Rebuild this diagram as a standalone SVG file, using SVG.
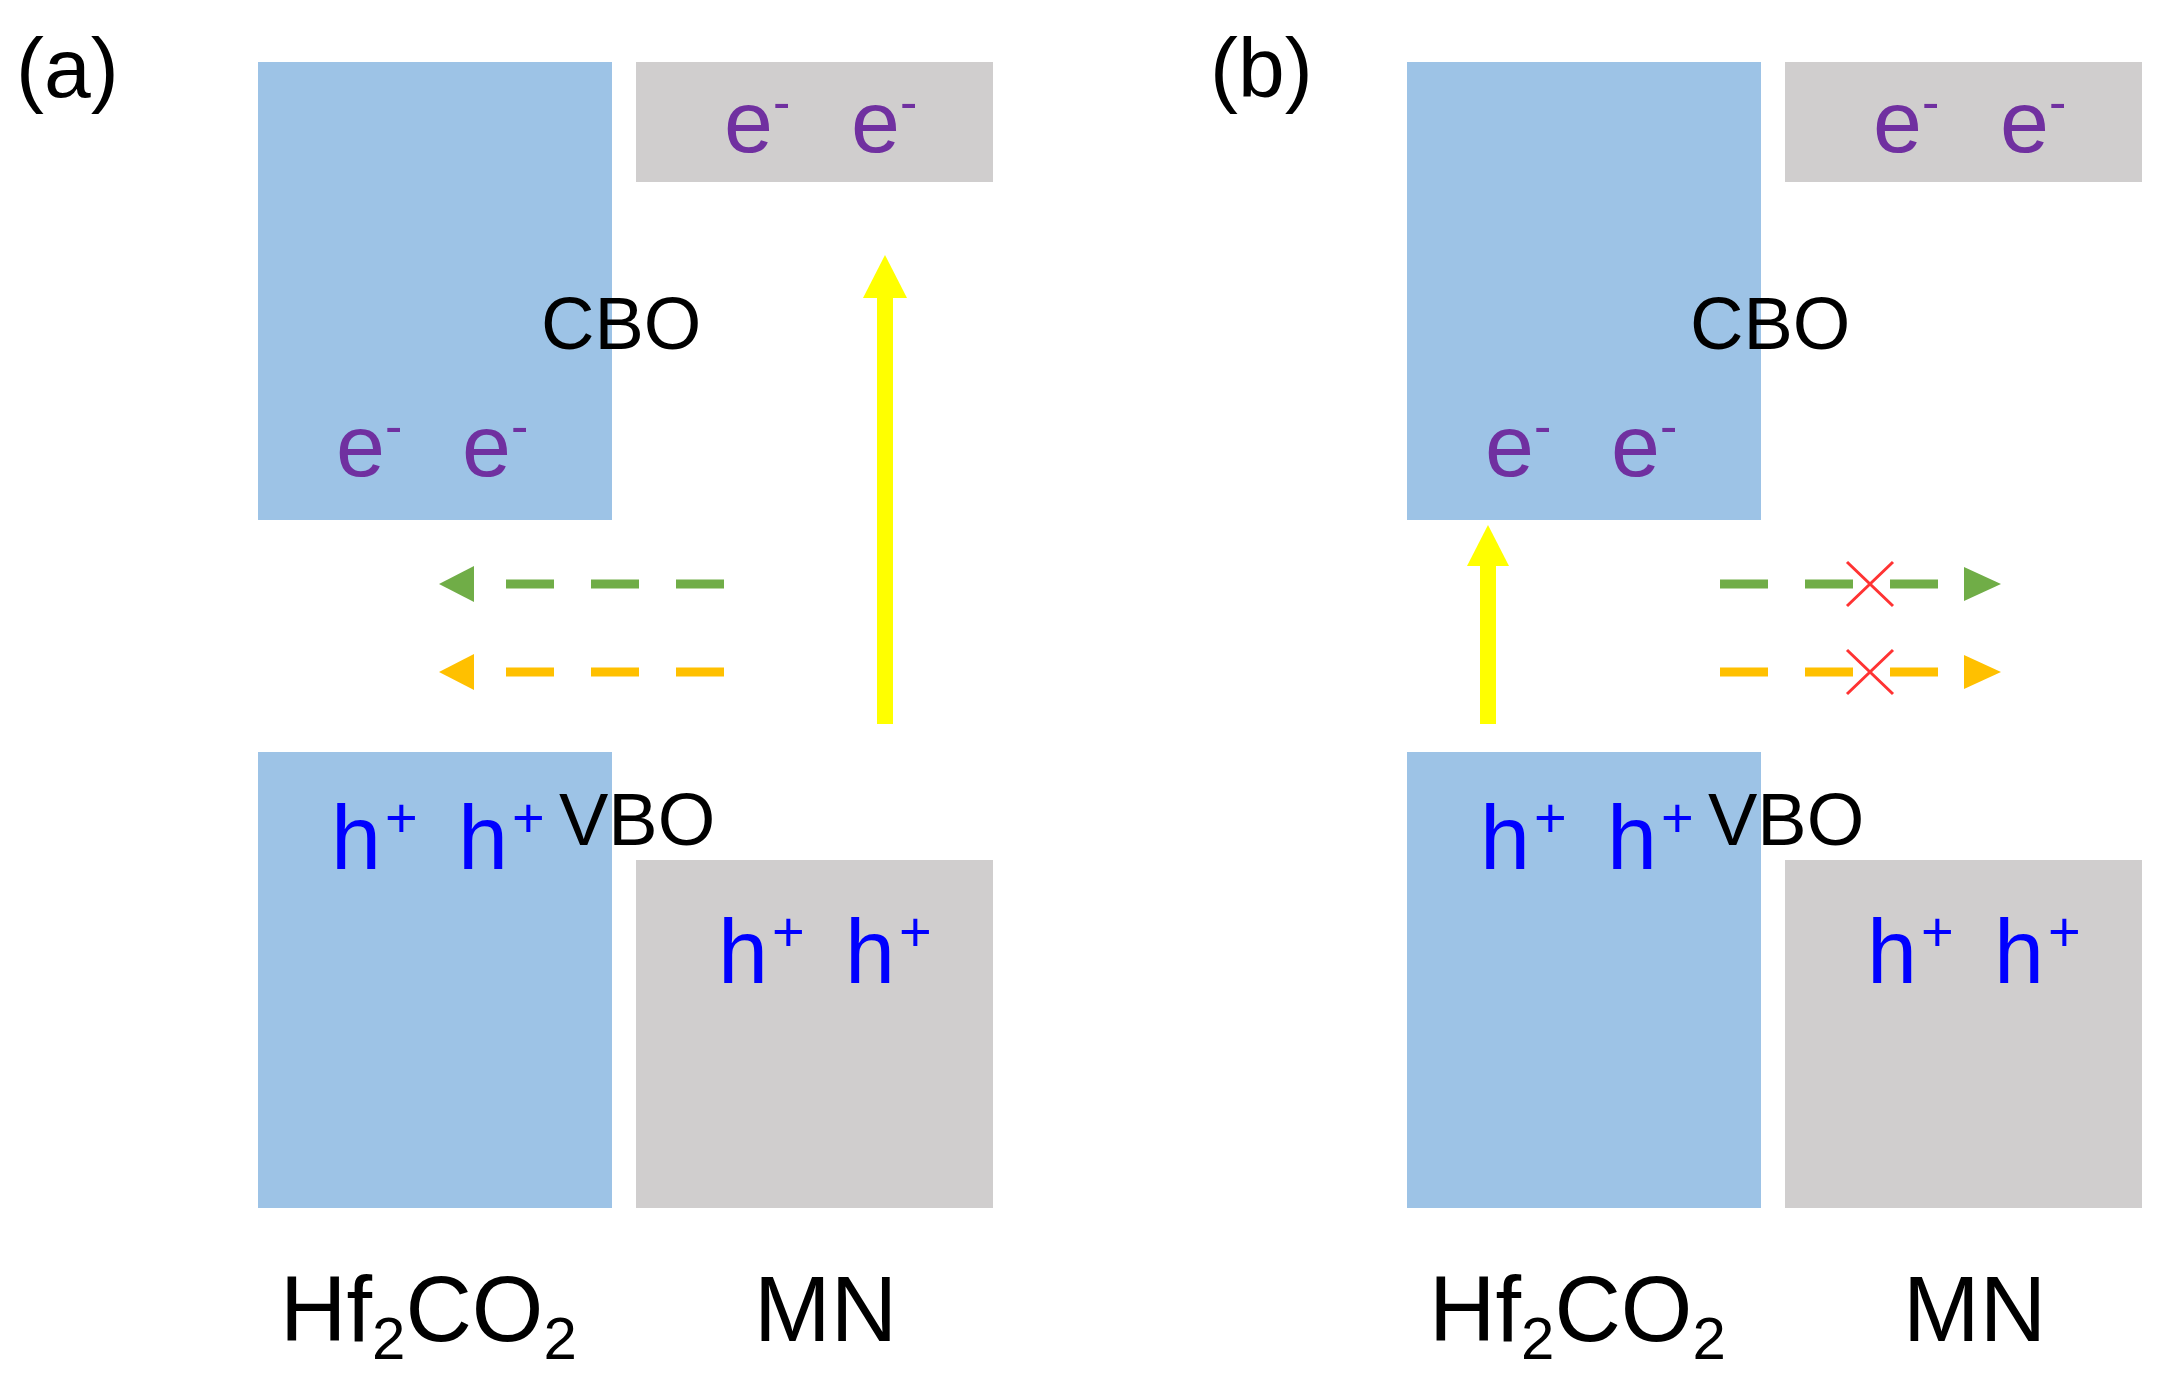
<svg xmlns="http://www.w3.org/2000/svg" width="2164" height="1397" viewBox="0 0 2164 1397">
<style>
text{font-family:"Liberation Sans",Arial,sans-serif}
.blue{fill:#9DC3E6}.grey{fill:#D0CECE}
.e{fill:#7030A0;font-size:88px}.h{fill:#0000FF;font-size:90px}
.lbl{fill:#000;font-size:74px}.big{fill:#000;font-size:92px}.pl{fill:#000;font-size:84px}
.dg{stroke:#70AD47;stroke-width:9;stroke-dasharray:48 37;fill:none}
.do{stroke:#FFC000;stroke-width:9;stroke-dasharray:48 37;fill:none}
.yl{stroke:#FFFF00;stroke-width:16;fill:none}
.x{stroke:#FF3333;stroke-width:3}
</style>
<rect width="2164" height="1397" fill="#fff"/>
<g id="panel-a">
<text class="pl" x="16" y="97">(a)</text>
<g id="a-hf-cb"><rect class="blue" x="258" y="62" width="354" height="458"/></g>
<g id="a-mn-cb"><rect class="grey" x="636" y="62" width="357" height="120"/></g>
<g id="a-hf-vb"><rect class="blue" x="258" y="752" width="354" height="456"/></g>
<g id="a-mn-vb"><rect class="grey" x="636" y="860" width="357" height="348"/></g>
<text class="e" x="724" y="152">e<tspan dy="-32" font-size="52">-</tspan></text>
<text class="e" x="851" y="152">e<tspan dy="-32" font-size="52">-</tspan></text>
<text class="e" x="336" y="476">e<tspan dy="-32" font-size="52">-</tspan></text>
<text class="e" x="462" y="476">e<tspan dy="-32" font-size="52">-</tspan></text>
<text class="lbl" x="541" y="349">CBO</text>
<text class="h" x="331" y="869">h<tspan dx="4" dy="-32" font-size="56">+</tspan></text>
<text class="h" x="458" y="869">h<tspan dx="4" dy="-32" font-size="56">+</tspan></text>
<text class="lbl" x="559" y="845">VBO</text>
<text class="h" x="718" y="983">h<tspan dx="4" dy="-32" font-size="56">+</tspan></text>
<text class="h" x="845" y="983">h<tspan dx="4" dy="-32" font-size="56">+</tspan></text>
<text class="big" x="280" y="1341">Hf<tspan dy="18" font-size="60">2</tspan><tspan dy="-18">CO</tspan><tspan dy="18" font-size="60">2</tspan></text>
<text class="big" x="754" y="1341">MN</text>
</g>
<g id="panel-b">
<text class="pl" x="1210" y="97">(b)</text>
<g id="b-hf-cb"><rect class="blue" x="1407" y="62" width="354" height="458"/></g>
<g id="b-mn-cb"><rect class="grey" x="1785" y="62" width="357" height="120"/></g>
<g id="b-hf-vb"><rect class="blue" x="1407" y="752" width="354" height="456"/></g>
<g id="b-mn-vb"><rect class="grey" x="1785" y="860" width="357" height="348"/></g>
<text class="e" x="1873" y="152">e<tspan dy="-32" font-size="52">-</tspan></text>
<text class="e" x="2000" y="152">e<tspan dy="-32" font-size="52">-</tspan></text>
<text class="e" x="1485" y="476">e<tspan dy="-32" font-size="52">-</tspan></text>
<text class="e" x="1611" y="476">e<tspan dy="-32" font-size="52">-</tspan></text>
<text class="lbl" x="1690" y="349">CBO</text>
<text class="h" x="1480" y="869">h<tspan dx="4" dy="-32" font-size="56">+</tspan></text>
<text class="h" x="1607" y="869">h<tspan dx="4" dy="-32" font-size="56">+</tspan></text>
<text class="lbl" x="1708" y="845">VBO</text>
<text class="h" x="1867" y="983">h<tspan dx="4" dy="-32" font-size="56">+</tspan></text>
<text class="h" x="1994" y="983">h<tspan dx="4" dy="-32" font-size="56">+</tspan></text>
<text class="big" x="1429" y="1341">Hf<tspan dy="18" font-size="60">2</tspan><tspan dy="-18">CO</tspan><tspan dy="18" font-size="60">2</tspan></text>
<text class="big" x="1903" y="1341">MN</text>
</g>
<g id="connectors">
<path class="dg" d="M724 584 H470"/><polygon fill="#70AD47" points="439,584 474,566 474,602"/>
<path class="do" d="M724 672 H470"/><polygon fill="#FFC000" points="439,672 474,654 474,690"/>
<path class="yl" d="M885 724 V290"/><polygon fill="#FFFF00" points="885,255 863,298 907,298"/>
<path class="dg" d="M1720 584 H1960"/><polygon fill="#70AD47" points="2001,584 1964,567 1964,601"/>
<path class="do" d="M1720 672 H1960"/><polygon fill="#FFC000" points="2001,672 1964,655 1964,689"/>
<path class="x" d="M1847 562 L1893 606 M1893 562 L1847 606"/>
<path class="x" d="M1847 650 L1893 694 M1893 650 L1847 694"/>
<path class="yl" d="M1488 724 V560"/><polygon fill="#FFFF00" points="1488,525 1467,566 1509,566"/>
</g>
</svg>
